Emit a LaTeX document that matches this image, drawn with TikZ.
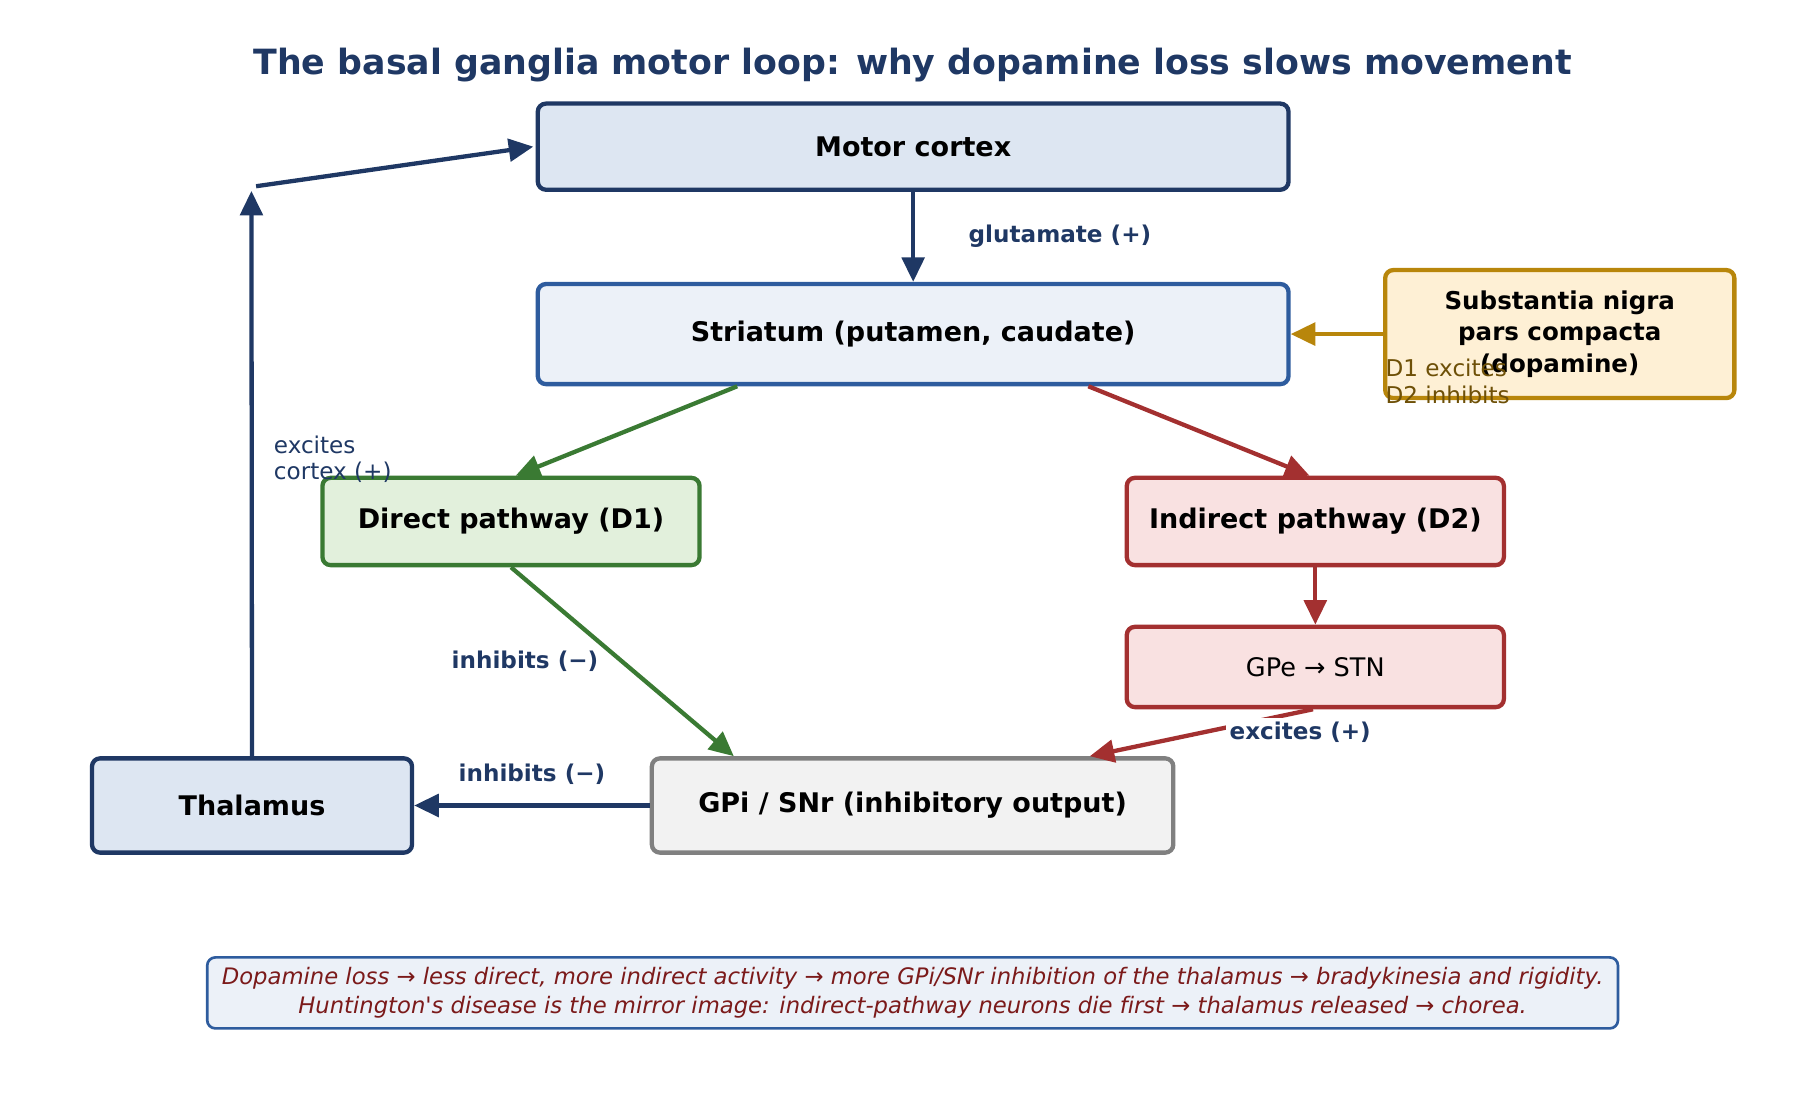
\documentclass[tikz,border=0pt]{standalone}
\usepackage{fontspec}
\setmainfont{DejaVu Sans}[Ligatures=NoCommon]
\usetikzlibrary{arrows.meta,calc}
\definecolor{navy}{HTML}{1F3864}
\definecolor{blu}{HTML}{2E5C9E}
\definecolor{gold}{HTML}{B8860B}
\definecolor{grn}{HTML}{3A7A33}
\definecolor{rd}{HTML}{A33030}
\definecolor{drk}{HTML}{7B1A1A}
\definecolor{fnav}{HTML}{DDE6F2}
\definecolor{fblu}{HTML}{ECF1F8}
\definecolor{fgold}{HTML}{FEF0D5}
\definecolor{fgrn}{HTML}{E2F0DC}
\definecolor{frd}{HTML}{F9E1E1}
\tikzset{
 box/.style={draw, line width=2.1pt, rounded corners=4pt, inner sep=0pt, font=\fontsize{13.2}{16}\selectfont\bfseries, align=center},
 ar/.style={line width=2.1pt, -{Stealth[length=12pt,width=11pt,inset=0pt]}},
 lab/.style={font=\fontsize{11.3}{13}\selectfont\bfseries, text=navy},
}
\begin{document}
\begin{tikzpicture}[x=0.02cm,y=-0.02cm]
\useasboundingbox (0,0) rectangle (1561,940);
\node[font=\fontsize{17}{20}\selectfont\bfseries, text=navy] (title) at (784,56) {The basal ganglia motor loop: why dopamine loss slows movement};
\node[box, draw=navy, fill=fnav, minimum width=645*0.02cm, minimum height=74*0.02cm] (mc) at (784.5,126) {Motor cortex};
\node[box, draw=blu, fill=fblu, minimum width=645*0.02cm, minimum height=86*0.02cm] (str) at (784.5,287) {Striatum (putamen, caudate)};
\node[box, draw=gold, fill=fgold, minimum width=300*0.02cm, minimum height=110*0.02cm, font=\fontsize{12}{15.5}\selectfont\bfseries] (snc) at (1340,287) {Substantia nigra\\pars compacta\\(dopamine)};
\node[box, draw=grn, fill=fgrn, minimum width=324*0.02cm, minimum height=75*0.02cm] (dir) at (439,448) {Direct pathway (D1)};
\node[box, draw=rd, fill=frd, minimum width=324*0.02cm, minimum height=75*0.02cm] (ind) at (1130,448) {Indirect pathway (D2)};
\node[box, draw=rd, fill=frd, minimum width=324*0.02cm, minimum height=69*0.02cm, font=\fontsize{12.5}{15}\selectfont] (gpe) at (1130,573) {GPe → STN};
\node[box, draw=gray, fill=gray!10!white, minimum width=448*0.02cm, minimum height=81*0.02cm] (gpi) at (784,692) {GPi / SNr (inhibitory output)};
\node[box, draw=navy, fill=fnav, minimum width=275*0.02cm, minimum height=81*0.02cm] (th) at (216.5,692) {Thalamus};
\node[draw=blu, fill=fblu, line width=1.3pt, rounded corners=4pt, minimum width=1212*0.02cm, minimum height=61*0.02cm, align=center, text=drk, font=\fontsize{11.1}{14}\selectfont\itshape] (note) at (784,853) {Dopamine loss → less direct, more indirect activity → more GPi/SNr inhibition of the thalamus → bradykinesia and rigidity.\\Huntington\textquotesingle s disease is the mirror image: indirect-pathway neurons die first → thalamus released → chorea.};

\draw[ar, navy] (mc.south) -- (str.north);
\node[lab, anchor=west] (lg) at (826,203) {glutamate (+)};
\draw[ar, gold] (snc.west) -- (str.east);
\node[anchor=north west, align=left, text=gold!60!black, font=\fontsize{11.3}{13}\selectfont, inner sep=0pt] (lsn) at (1190,308) {D1 excites\\D2 inhibits};
\draw[ar, grn] ($(str.south west)!0.267!(str.south east)$) -- ($(dir.north)+(4,0)$);
\draw[ar, rd] ($(str.south west)!0.732!(str.south east)$) -- ($(ind.north)+(-5,0)$);
\draw[ar, grn] (dir.south) -- ($(gpi.north west)!0.16!(gpi.north east)$);
\node[lab] (li1) at (451,568) {inhibits (−)};
\draw[ar, rd] (ind.south) -- (gpe.north);
\draw[ar, rd] ($(gpe.south)+(-2,0)$) -- ($(gpi.north west)!0.837!(gpi.north east)$);
\node[lab, fill=white, inner sep=2pt] (le) at (1117,629) {excites (+)};
\draw[ar, navy] (gpi.west) -- (th.east);
\node[lab] (li2) at (457,665) {inhibits (−)};
\coordinate (top) at (220,160);
\draw[ar, navy] (th.north) -- (216,164);
\draw[ar, navy] (top) -- ($(mc.west)+(-2,0)$);
\node[anchor=north west, align=left, text=navy, font=\fontsize{11.3}{13}\selectfont, inner sep=0pt] (lc) at (235,374) {excites\\cortex (+)};
\end{tikzpicture}
\end{document}
